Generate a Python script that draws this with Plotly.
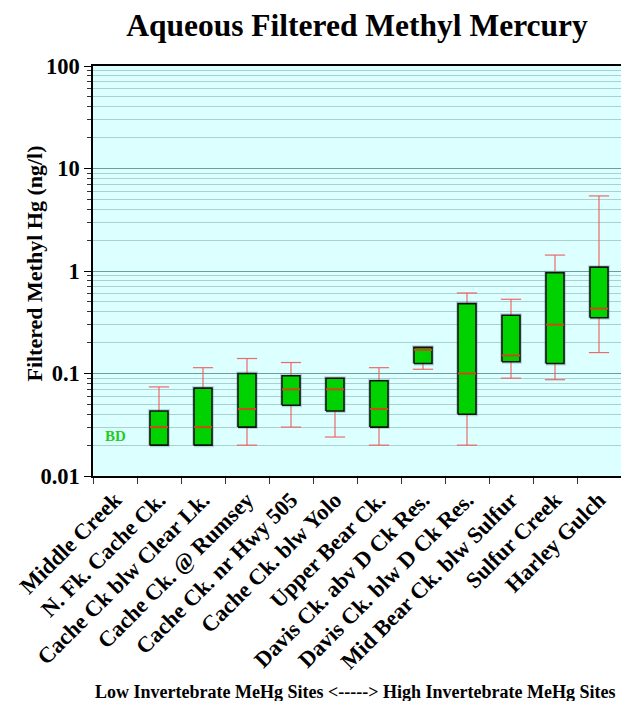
import math
import plotly.graph_objects as go

# Sites ordered from low to high invertebrate MeHg
sites = [
    "Middle Creek", "N. Fk. Cache Ck.", "Cache Ck blw Clear Lk.", "Cache Ck. @ Rumsey",
    "Cache Ck. nr Hwy 505", "Cache Ck. blw Yolo", "Upper Bear Ck.", "Davis Ck. abv D Ck Res.",
    "Davis Ck. blw D Ck Res.", "Mid Bear Ck. blw Sulfur", "Sulfur Creek", "Harley Gulch",
]

# Box statistics, filtered methyl Hg (ng/l); Middle Creek is below detection
low_whisker = [None, 0.020, 0.020, 0.020, 0.030, 0.024, 0.020, 0.110, 0.020, 0.090, 0.087, 0.160]
q1          = [None, 0.020, 0.020, 0.030, 0.049, 0.043, 0.030, 0.125, 0.040, 0.130, 0.125, 0.350]
median      = [None, 0.030, 0.030, 0.045, 0.070, 0.070, 0.045, 0.170, 0.100, 0.150, 0.300, 0.430]
q3          = [None, 0.043, 0.072, 0.100, 0.095, 0.090, 0.085, 0.180, 0.480, 0.370, 0.960, 1.090]
high_whisker = [None, 0.074, 0.114, 0.140, 0.128, 0.090, 0.114, 0.180, 0.610, 0.530, 1.430, 5.400]

bd_site = "Middle Creek"
bd_value = 0.0248

y_ticks = [0.01, 0.1, 1, 10, 100]
y_tick_text = ["0.01", "0.1", "1", "10", "100"]

SERIF = "Liberation Serif"
BOX_HALF = 0.205
CAP_HALF = 0.23

x_pos = list(range(len(sites)))

# Build segment lists for whiskers, boxes and medians
wx, wy = [], []
bx, by = [], []
mx, my = [], []
for i in x_pos:
    if q1[i] is None:
        continue
    lo, a, m, b, hi = low_whisker[i], q1[i], median[i], q3[i], high_whisker[i]
    # vertical whisker stems
    wx += [i, i, None, i, i, None]
    wy += [b, hi, None, a, lo, None]
    # whisker caps
    wx += [i - CAP_HALF, i + CAP_HALF, None, i - CAP_HALF, i + CAP_HALF, None]
    wy += [hi, hi, None, lo, lo, None]
    # box outline
    bx += [i - BOX_HALF, i + BOX_HALF, i + BOX_HALF, i - BOX_HALF, i - BOX_HALF, None]
    by += [a, a, b, b, a, None]
    # median bar
    mx += [i - BOX_HALF, i + BOX_HALF, None]
    my += [m, m, None]

fig = go.Figure()

fig.add_trace(go.Scatter(
    x=wx, y=wy, mode="lines", hoverinfo="skip", showlegend=False,
    line=dict(color="rgba(240,90,90,0.9)", width=1.2),
))
# soft halo around each box
fig.add_trace(go.Scatter(
    x=bx, y=by, mode="lines", hoverinfo="skip", showlegend=False,
    line=dict(color="rgba(60,110,110,0.25)", width=4),
))
fig.add_trace(go.Scatter(
    x=bx, y=by, mode="lines", fill="toself", fillcolor="#00d200",
    hoverinfo="skip", showlegend=False,
    line=dict(color="#111111", width=1.6),
))
fig.add_trace(go.Scatter(
    x=mx, y=my, mode="lines", hoverinfo="skip", showlegend=False,
    line=dict(color="#cc4a1a", width=2),
))

fig.add_annotation(
    x=sites.index(bd_site), y=math.log10(bd_value), xref="x", yref="y",
    text="BD", showarrow=False, xanchor="center", yanchor="middle",
    font=dict(family=SERIF, size=15, color="#22cc22", weight="bold"),
)

fig.update_layout(
    width=621, height=701,
    margin=dict(l=93, r=0, t=66, b=225),
    paper_bgcolor="white",
    plot_bgcolor="#dcffff",
    title=dict(
        text="Aqueous Filtered Methyl Mercury",
        x=0.5, xref="paper", xanchor="center",
        y=1 - 25 / 701, yref="container", yanchor="middle",
        font=dict(family=SERIF, size=31.5, color="black", weight="bold"),
    ),
    showlegend=False,
)

fig.update_xaxes(
    range=[-0.5, len(sites) - 0.5],
    tickmode="array", tickvals=x_pos, ticktext=sites, tickangle=-45,
    ticks="", showgrid=False, zeroline=False,
    showline=True, linecolor="black", linewidth=1.5, mirror=True,
    tickfont=dict(family=SERIF, size=22.5, color="black", weight="bold"),
    minor=dict(tick0=-0.5, dtick=1, ticks="outside", ticklen=6,
               tickcolor="#333333", tickwidth=1, showgrid=False),
)

fig.update_yaxes(
    type="log", range=[-2, 2],
    tickmode="array", tickvals=y_ticks, ticktext=y_tick_text,
    ticks="outside", ticklen=7, tickcolor="black", tickwidth=1,
    showgrid=True, gridcolor="#6f9c9c", gridwidth=1,
    showline=True, linecolor="black", linewidth=1.5, zeroline=False,
    tickfont=dict(family=SERIF, size=22.5, color="black", weight="bold"),
    minor=dict(dtick="D1", ticks="outside", ticklen=4, tickcolor="#333333",
               showgrid=True, gridcolor="#abd0d0", gridwidth=1),
)

fig.add_annotation(
    x=-0.11, y=0.518, xref="paper", yref="paper",
    text="Filtered Methyl Hg (ng/l)", textangle=-90, showarrow=False,
    xanchor="center", yanchor="middle",
    font=dict(family=SERIF, size=22, color="black", weight="bold"),
)

fig.add_annotation(
    x=0, y=-0.527, xref="paper", yref="paper",
    text="Low Invertebrate MeHg Sites <-----> High Invertebrate MeHg Sites",
    showarrow=False, xanchor="left", yanchor="middle",
    font=dict(family=SERIF, size=18, color="black", weight="bold"),
)

fig.write_html("out.html")
